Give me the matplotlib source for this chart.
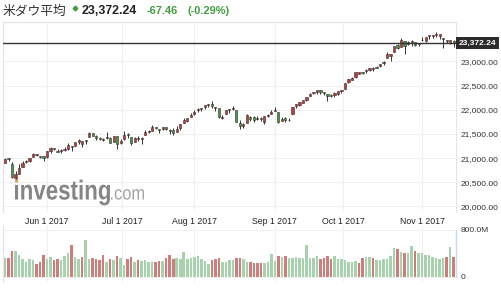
import numpy as np
import pandas as pd
import matplotlib
matplotlib.use("Agg")
import matplotlib.pyplot as plt
from matplotlib.lines import Line2D
from matplotlib.patches import Rectangle, PathPatch
from matplotlib.textpath import TextPath
from matplotlib.font_manager import FontProperties
from matplotlib.transforms import blended_transform_factory, Affine2D

plt.rcParams['font.family'] = ['Liberation Sans', 'Noto Sans CJK JP', 'DejaVu Sans']

# 取引日 (2017/5/15 - 2017/11/14)
fechas = pd.bdate_range("2017-05-15", "2017-11-14", freq="C",
                        holidays=["2017-05-29", "2017-07-04", "2017-09-04"])

apertura = [20906, 20983, 20880, 20592, 20680, 20814, 20919, 20951, 21029, 21069, 21042, 21038,
            21030, 21143, 21199, 21158, 21155, 21174, 21194, 21240, 21257, 21343, 21290, 21351,
            21434, 21528, 21462, 21408, 21384, 21445, 21408, 21339, 21450, 21320,
            21392, 21483, 21440, 21339, 21403, 21395, 21471, 21542, 21570, 21638, 21600, 21600,
            21644, 21559, 21583, 21550, 21627, 21720, 21771, 21849,
            21920, 22002, 22029, 22058, 22102, 22123, 22038, 22031, 21840, 21920, 22012, 22019,
            22000, 21737, 21669, 21725, 21853, 21848, 21803, 21820, 21741, 21863, 21911,
            21982, 21961, 21773, 21822, 21780, 21905, 22079, 22105, 22140, 22208, 22283, 22350,
            22374, 22415, 22353, 22332, 22316, 22312, 22330, 22383,
            22424, 22568, 22627, 22679, 22747, 22785, 22800, 22824, 22856, 22881, 22900, 22961,
            23069, 23106, 23200, 23350, 23310, 23420, 23356, 23411, 23405, 23372,
            23442, 23421, 23532, 23525, 23548, 23532, 23480, 23440, 23390, 23421]
maximo = [20999, 21012, 20918, 20735, 20888, 20942, 20971, 21013, 21112, 21091, 21046, 21050,
          21144, 21226, 21206, 21185, 21198, 21225, 21305, 21261, 21330, 21392, 21361, 21384,
          21535, 21530, 21473, 21441, 21424, 21535, 21444, 21457, 21457, 21395,
          21562, 21519, 21440, 21437, 21450, 21432, 21580, 21576, 21681, 21654, 21600, 21641,
          21646, 21597, 21614, 21670, 21712, 21830, 21832, 21929,
          21990, 22036, 22044, 22094, 22121, 22180, 22055, 22031, 21890, 22002, 22017, 22084,
          22004, 21785, 21729, 21911, 21871, 21872, 21878, 21843, 21866, 21915, 21996,
          22051, 21962, 21842, 21844, 21825, 22059, 22119, 22159, 22205, 22268, 22338, 22371,
          22413, 22419, 22376, 22335, 22331, 22368, 22381, 22408,
          22558, 22642, 22686, 22777, 22777, 22789, 22837, 22874, 22884, 22906, 22957, 23003,
          23187, 23164, 23329, 23369, 23485, 23431, 23430, 23448, 23405, 23390,
          23517, 23517, 23555, 23553, 23602, 23564, 23490, 23451, 23440, 23438]
minimo = [20906, 20939, 20599, 20553, 20680, 20814, 20903, 20917, 21021, 21041, 20997, 20945,
          21005, 21102, 21164, 21128, 21113, 21155, 21177, 21158, 21248, 21301, 21236, 21299,
          21434, 21467, 21376, 21367, 21345, 21393, 21310, 21334, 21197, 21299,
          21384, 21410, 21280, 21339, 21361, 21300, 21471, 21520, 21566, 21608, 21521, 21580,
          21582, 21492, 21478, 21550, 21590, 21720, 21738, 21842,
          21900, 21950, 21985, 22012, 22067, 22037, 21971, 21841, 21800, 21920, 21935, 21990,
          21750, 21600, 21631, 21725, 21766, 21753, 21792, 21776, 21700, 21847, 21911,
          21967, 21721, 21763, 21741, 21762, 21905, 22034, 22085, 22140, 22181, 22283, 22325,
          22320, 22325, 22302, 22192, 22260, 22266, 22300, 22349,
          22424, 22560, 22610, 22657, 22743, 22744, 22761, 22795, 22803, 22857, 22880, 22929,
          23069, 23000, 23192, 23268, 23304, 23163, 23336, 23325, 23312, 23330,
          23430, 23408, 23468, 23489, 23500, 23475, 23270, 23380, 23357, 23304]
cierre = [20982, 20980, 20607, 20663, 20805, 20895, 20938, 21012, 21083, 21080, 21029, 21009,
          21144, 21206, 21184, 21136, 21174, 21183, 21272, 21236, 21328, 21375, 21360, 21384,
          21529, 21467, 21410, 21397, 21395, 21410, 21311, 21455, 21287, 21350,
          21479, 21478, 21320, 21414, 21409, 21409, 21532, 21553, 21638, 21630, 21575, 21641,
          21612, 21580, 21513, 21613, 21711, 21797, 21830, 21891,
          21964, 22016, 22026, 22093, 22118, 22085, 22049, 21844, 21858, 21994, 21999, 22025,
          21751, 21675, 21704, 21900, 21812, 21783, 21814, 21808, 21865, 21892, 21948,
          21988, 21753, 21808, 21785, 21798, 22057, 22119, 22158, 22203, 22268, 22331, 22371,
          22413, 22359, 22350, 22296, 22284, 22341, 22381, 22405,
          22558, 22642, 22662, 22775, 22774, 22761, 22831, 22873, 22841, 22872, 22957, 22997,
          23158, 23163, 23329, 23274, 23442, 23329, 23401, 23434, 23349, 23377,
          23435, 23516, 23539, 23548, 23557, 23563, 23462, 23422, 23440, 23372.24]

# 出来高 (百万株) と色
volumen = [319, 319, 435, 435, 377, 296, 255, 296, 284, 220, 255, 377, 296, 342, 284, 296,
           284, 354, 412, 551, 342, 307, 342, 620, 307, 319, 307, 284, 377, 255, 307, 284,
           354, 319, 203, 296, 342, 255, 284, 272, 284, 255, 255, 255, 272, 272, 325, 377,
           296, 325, 296, 423, 296, 325, 342, 354, 296, 272, 220, 284, 296, 325, 255, 255,
           284, 284, 325, 325, 296, 255,
           255, 238, 238, 238, 238, 255, 394, 272, 354, 342, 354, 313, 325, 342, 313, 313,
           551, 325, 313, 354, 296, 313, 354, 296, 354, 296, 296, 284, 255, 255, 272, 238,
           325, 342, 342, 313, 284, 284, 296, 296, 354, 493, 475, 423, 412, 412, 533, 446,
           412, 400, 377, 371, 330, 313, 296, 313, 342, 504, 342]
color_vol = ("grrggggggr" "rrggrrgggr" "ggrggrrrrg" "rgrggrrgrg" "gggrrgrrrg"
             "gggggggggr" "rrggggrrgg"
             "rrrrggggrg" "rggggggggg" "rrrrgggggg" "grrggrgggg" "ggrgrggrgg"
             "ggggggrgr")

ultimo = 23372.24
variacion = -67.46
porcentaje = -0.29

ROJO = '#b8403c'
VERDE = '#3f9e3f'
VOL_ROJO = '#d07c7a'
VOL_VERDE = '#a6d3ae'
GRIS = '#f0f0f0'

W, H = 501, 289
fig = plt.figure(figsize=(W / 100, H / 100), dpi=100)


def rect(x0, y0, x1, y1):
    return [x0 / W, 1 - y1 / H, (x1 - x0) / W, (y1 - y0) / H]


ax = fig.add_axes(rect(3, 22, 456, 212))
axv = fig.add_axes(rect(3, 226, 456, 282), sharex=ax)

n = len(cierre)
x = np.arange(n)
o = np.array(apertura, float)
c = np.array(cierre, float)
hi = np.array(maximo, float)
lo = np.array(minimo, float)

# velas
ax.vlines(x, lo, hi, color='#333333', lw=0.7, zorder=3)
sube = c >= o
cuerpo = np.maximum(np.abs(c - o), 18)
ax.bar(x, cuerpo, bottom=np.minimum(o, c), width=0.62,
       color=np.where(sube, ROJO, VERDE), edgecolor='#3a2a2a', lw=0.4, zorder=4)

# precio actual
ax.axhline(ultimo, color='#333333', lw=1.0, zorder=5)
tr = blended_transform_factory(ax.transAxes, ax.transData)
ax.text(1.006, ultimo, f"{ultimo:,.2f}", transform=tr, ha='left', va='center',
        fontsize=6, color='white', fontweight='bold', zorder=6,
        bbox=dict(boxstyle='square,pad=0.3', fc='#2b2b2b', ec='none'))

# meses
ticks = []
etiquetas = []
for mes in pd.date_range("2017-06-01", "2017-11-01", freq="MS"):
    i = int(np.searchsorted(fechas, mes))
    ticks.append(i if fechas[i] == mes else i - 0.5)
    etiquetas.append(f"{mes:%b} 1 {mes:%Y}")

ax.set_xlim(-0.57, 128.67)
ax.set_ylim(19886, 23817)
ax.set_yticks(np.arange(20000, 23001, 500))
ax.set_yticklabels([f"{v:,.2f}" for v in np.arange(20000, 23001, 500)])
ax.yaxis.tick_right()
ax.set_xticks(ticks)
ax.set_xticklabels(etiquetas)
ax.tick_params(axis='y', length=0, pad=3, labelsize=6, labelcolor='#333333')
ax.tick_params(axis='x', length=0, pad=3.5, labelsize=6.3, labelcolor='#222222')
ax.grid(True, color=GRIS, lw=0.8)
ax.set_axisbelow(True)
ax.spines['bottom'].set_visible(False)
for lado in ['top', 'left', 'right']:
    ax.spines[lado].set_color('#e4e4e4')
    ax.spines[lado].set_linewidth(0.8)

# volumen
axv.bar(x, volumen, width=0.72,
        color=[VOL_ROJO if k == 'r' else VOL_VERDE for k in color_vol], zorder=3)
axv.set_ylim(-91, 868)
axv.set_yticks([0, 800])
axv.set_yticklabels(['0', '800.0M'])
axv.yaxis.tick_right()
axv.tick_params(axis='y', length=0, pad=3, labelsize=6, labelcolor='#333333')
axv.tick_params(axis='x', length=0, labelbottom=False)
axv.grid(True, color=GRIS, lw=0.8)
axv.set_axisbelow(True)
for lado in ['top', 'bottom', 'right']:
    axv.spines[lado].set_visible(False)
axv.spines['left'].set_color('#e4e4e4')
axv.plot([128.67, 128.67], [0, 800], color='#c9d8ea', lw=1.0, clip_on=False)

# titulo
fig.text(3 / W, 1 - 11 / H, "米ダウ平均", fontsize=9.2, color='#333333',
         va='center', ha='left', family=['Noto Sans CJK JP', 'DejaVu Sans'])
fig.add_artist(Line2D([74.5 / W], [1 - 7.5 / H], marker='D', markersize=2.4,
                      color=VERDE, transform=fig.transFigure))
fig.text(82 / W, 1 - 10.5 / H, f"{ultimo:,.2f}", fontsize=8.9, fontweight='bold',
         color='#222222', va='center', ha='left')
fig.text(147 / W, 1 - 10.5 / H, f"{variacion:.2f}", fontsize=7.9, fontweight='bold',
         color=VERDE, va='center', ha='left')
fig.text(187 / W, 1 - 10.5 / H, f"({porcentaje:.2f}%)", fontsize=7.9, fontweight='bold',
         color=VERDE, va='center', ha='left')

# marca de agua (texto comprimido en pixeles)
capa = fig.add_axes([0, 0, 1, 1], zorder=10)
capa.set_xlim(0, W)
capa.set_ylim(H, 0)
capa.axis('off')
capa.patch.set_alpha(0)


def logo(texto, x0, base, em, ancho, peso, color):
    tp = TextPath((0, 0), texto, size=em, prop=FontProperties(family='Liberation Sans', weight=peso))
    ext = tp.get_extents()
    sx = ancho / ext.width
    t = Affine2D().translate(-ext.x0, 0).scale(sx, -1).translate(x0, base)
    capa.add_patch(PathPatch(t.transform_path(tp), fc=color, ec='none'))
    return sx


sx = logo("investing", 15, 199.5, 27.5, 95, 'bold', '#858585')
logo(".com", 111, 199.5, 19.3, 33, 'normal', '#a3a3a3')
# punto naranja de la i
ti = TextPath((0, 0), "i", size=27.5, prop=FontProperties(family='Liberation Sans', weight='bold'))
v = ti.vertices[ti.vertices[:, 1] > 0.6 * 27.5]
ei = TextPath((0, 0), "investing", size=27.5,
              prop=FontProperties(family='Liberation Sans', weight='bold')).get_extents()
px0 = 15 + (v[:, 0].min() - ei.x0) * sx
px1 = 15 + (v[:, 0].max() - ei.x0) * sx
capa.add_patch(Rectangle((px0, 199.5 - v[:, 1].max()), px1 - px0,
                         v[:, 1].max() - v[:, 1].min(), fc='#f2a13a', ec='none'))

fig.savefig("out.png", dpi=100)
